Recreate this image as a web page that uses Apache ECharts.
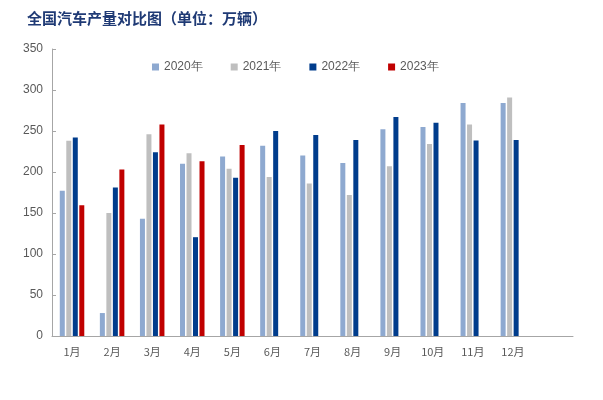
<!DOCTYPE html>
<html>
<head>
<meta charset="utf-8">
<script src="https://cdn.jsdelivr.net/npm/echarts@6/dist/echarts.min.js"></script>
<style>html,body{margin:0;padding:0;background:#fff;}#c{width:603px;height:400px;}</style>
</head>
<body>
<div id="c"></div>
<script>
var categories = ['1月','2月','3月','4月','5月','6月','7月','8月','9月','10月','11月','12月',''];
var seriesNames = ['2020年','2021年','2022年','2023年'];
var data2020 = [177, 28, 143, 210, 219, 232, 220, 211, 252, 255, 284, 284];
var data2021 = [238, 150, 246, 223, 204, 194, 186, 172, 207, 234, 258, 291];
var data2022 = [242, 181, 224, 120.5, 193, 250, 245, 239, 267, 260, 238.5, 239];
var data2023 = [159.6, 203, 258, 213, 233];
var colors = ['#8EA9D0', '#BFBFBF', '#003C8C', '#C00000'];
var allData = [data2020, data2021, data2022, data2023];

var chart = echarts.init(document.getElementById('c'), null, {renderer: 'canvas'});
chart.setOption({
  animation: false,
  title: {
    text: '全国汽车产量对比图（单位：万辆）',
    left: 22, top: 6,
    textStyle: {fontFamily: 'Noto Sans CJK SC', fontWeight: 'bold', fontSize: 15, color: '#1F3A75'}
  },
  legend: {
    data: seriesNames,
    top: 56, left: 147,
    itemWidth: 7, itemHeight: 7, itemGap: 28,
    icon: 'rect',
    textStyle: {fontFamily: 'Liberation Sans, Arial', fontSize: 12, color: '#595959'}
  },
  grid: {left: 52, right: 30, top: 49, bottom: 64, containLabel: false},
  xAxis: {
    type: 'category',
    data: categories,
    boundaryGap: true,
    axisLine: {lineStyle: {color: '#A6A6A6', width: 1}},
    axisTick: {inside: true, length: 4, lineStyle: {color: '#A6A6A6'}},
    axisLabel: {color: '#595959', fontSize: 11, margin: 10, fontFamily: 'Noto Sans CJK SC'}
  },
  yAxis: {
    type: 'value', min: 0, max: 350, interval: 50,
    axisLine: {show: true, lineStyle: {color: '#A6A6A6', width: 1}},
    axisTick: {show: true, inside: true, length: 4, lineStyle: {color: '#A6A6A6'}},
    splitLine: {show: false},
    axisLabel: {color: '#595959', fontSize: 12, margin: 9, fontFamily: 'Liberation Sans, Arial'}
  },
  series: seriesNames.map(function (n, i) {
    return {
      name: n, type: 'bar', data: allData[i],
      barWidth: 5, barGap: '30%',
      itemStyle: {color: colors[i]}
    };
  })
});
</script>
</body>
</html>
